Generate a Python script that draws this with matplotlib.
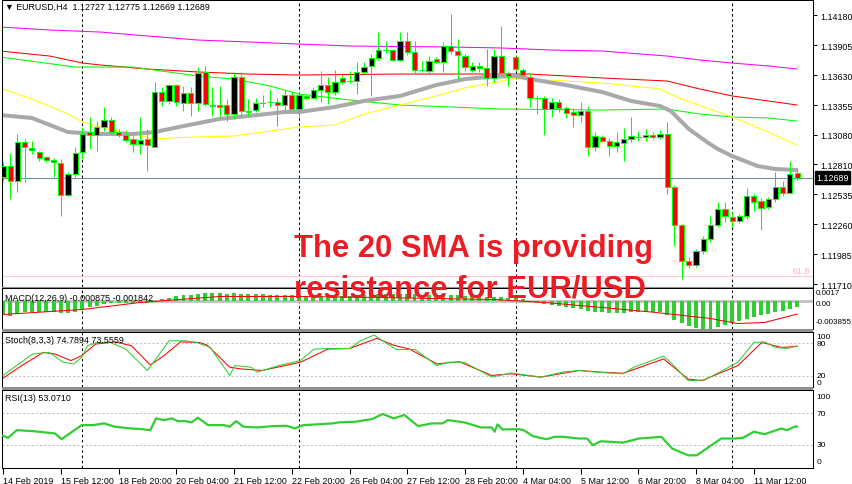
import matplotlib
matplotlib.use("Agg")
import matplotlib.pyplot as plt
from matplotlib.patches import Rectangle

plt.rcParams['font.family'] = ['Liberation Sans', 'DejaVu Sans']

# ---------------- data ----------------
opens = [1.12695, 1.12796, 1.12658, 1.13016, 1.12961, 1.12924, 1.12878, 1.12851, 1.12823, 1.12530,
         1.12722, 1.12924, 1.13107, 1.13080, 1.13153, 1.13217, 1.13107, 1.13080, 1.13043, 1.12997,
         1.13043, 1.12970, 1.13474, 1.13392, 1.13538, 1.13373, 1.13465, 1.13373, 1.13658, 1.13355,
         1.13351, 1.13355, 1.13272, 1.13612, 1.13300, 1.13309, 1.13378, 1.13387, 1.13383, 1.13355,
         1.13447, 1.13318, 1.13438, 1.13419, 1.13493, 1.13538, 1.13474, 1.13603, 1.13575, 1.13575,
         1.13658, 1.13713, 1.13786, 1.13859, 1.13859, 1.13768, 1.13942, 1.13841, 1.13676, 1.13667,
         1.13777, 1.13749, 1.13896, 1.13850, 1.13804, 1.13676, 1.13713, 1.13694, 1.13603, 1.13804,
         1.13648, 1.13795, 1.13676, 1.13612, 1.13419, 1.13419, 1.13318, 1.13383, 1.13327, 1.13291,
         1.13263, 1.13300, 1.12970, 1.13062, 1.13025, 1.12979, 1.13006, 1.13043, 1.13062, 1.13062,
         1.13080, 1.13062, 1.13089, 1.12603, 1.12255, 1.11924, 1.11887, 1.12016, 1.12126, 1.12255,
         1.12401, 1.12328, 1.12291, 1.12337, 1.12521, 1.12475, 1.12420, 1.12493, 1.12603, 1.12548,
         1.12727]
highs = [1.12832, 1.12915, 1.13089, 1.13043, 1.13025, 1.12933, 1.12887, 1.12869, 1.12860, 1.12741,
         1.12970, 1.13153, 1.13245, 1.13208, 1.13337, 1.13245, 1.13135, 1.13126, 1.13071, 1.13245,
         1.13135, 1.13566, 1.13520, 1.13548, 1.13548, 1.13529, 1.13520, 1.13703, 1.13713, 1.13520,
         1.13529, 1.13410, 1.13658, 1.13658, 1.13410, 1.13419, 1.13447, 1.13502, 1.13419, 1.13493,
         1.13474, 1.13483, 1.13447, 1.13520, 1.13667, 1.13612, 1.13676, 1.13630, 1.13667, 1.13749,
         1.13749, 1.13823, 1.14024, 1.13942, 1.13869, 1.14024, 1.14024, 1.13942, 1.13758, 1.13804,
         1.13795, 1.13933, 1.14189, 1.13960, 1.13823, 1.13749, 1.13749, 1.13869, 1.13869, 1.14079,
         1.13667, 1.13804, 1.13694, 1.13648, 1.13447, 1.13438, 1.13419, 1.13410, 1.13346, 1.13327,
         1.13383, 1.13346, 1.13107, 1.13080, 1.13052, 1.13107, 1.13144, 1.13245, 1.13117, 1.13135,
         1.13107, 1.13126, 1.13199, 1.12621, 1.12264, 1.11961, 1.12035, 1.12154, 1.12337, 1.12466,
         1.12466, 1.12374, 1.12356, 1.12594, 1.12539, 1.12502, 1.12511, 1.12741, 1.12658, 1.12842,
         1.12775]
lows = [1.12658, 1.12493, 1.12557, 1.12649, 1.12906, 1.12842, 1.12832, 1.12695, 1.12337, 1.12521,
        1.12695, 1.12860, 1.12952, 1.12933, 1.13117, 1.13089, 1.13062, 1.13016, 1.12924, 1.12906,
        1.12750, 1.12970, 1.13346, 1.13364, 1.13346, 1.13300, 1.13254, 1.13300, 1.13346, 1.13254,
        1.13245, 1.13208, 1.13227, 1.13245, 1.13254, 1.13291, 1.13337, 1.13337, 1.13162, 1.13309,
        1.13300, 1.13245, 1.13410, 1.13410, 1.13383, 1.13364, 1.13447, 1.13548, 1.13557, 1.13456,
        1.13639, 1.13438, 1.13768, 1.13832, 1.13758, 1.13758, 1.13813, 1.13639, 1.13658, 1.13639,
        1.13740, 1.13658, 1.13823, 1.13593, 1.13667, 1.13658, 1.13658, 1.13529, 1.13566, 1.13639,
        1.13529, 1.13667, 1.13612, 1.13337, 1.13272, 1.13080, 1.13245, 1.13291, 1.13236, 1.13153,
        1.13199, 1.12887, 1.12933, 1.13016, 1.12887, 1.12924, 1.12842, 1.13016, 1.13025, 1.13025,
        1.13043, 1.13043, 1.12539, 1.12062, 1.11759, 1.11860, 1.11869, 1.11989, 1.12099, 1.12236,
        1.12282, 1.12236, 1.12273, 1.12310, 1.12383, 1.12209, 1.12401, 1.12466, 1.12521, 1.12548,
        1.12669]
closes = [1.12796, 1.12658, 1.13016, 1.12970, 1.12942, 1.12869, 1.12851, 1.12832, 1.12530, 1.12722,
          1.12915, 1.13089, 1.13080, 1.13153, 1.13217, 1.13107, 1.13080, 1.13034, 1.12997, 1.13034,
          1.12988, 1.13474, 1.13392, 1.13538, 1.13383, 1.13465, 1.13373, 1.13648, 1.13364, 1.13346,
          1.13341, 1.13272, 1.13612, 1.13300, 1.13291, 1.13373, 1.13378, 1.13387, 1.13355, 1.13447,
          1.13318, 1.13447, 1.13419, 1.13493, 1.13538, 1.13474, 1.13566, 1.13566, 1.13575, 1.13658,
          1.13703, 1.13786, 1.13859, 1.13859, 1.13768, 1.13942, 1.13841, 1.13676, 1.13676, 1.13758,
          1.13749, 1.13896, 1.13850, 1.13813, 1.13703, 1.13713, 1.13694, 1.13603, 1.13804, 1.13648,
          1.13621, 1.13685, 1.13630, 1.13419, 1.13419, 1.13318, 1.13383, 1.13327, 1.13282, 1.13263,
          1.13300, 1.12970, 1.13071, 1.13025, 1.12979, 1.13016, 1.13043, 1.13071, 1.13062, 1.13080,
          1.13062, 1.13089, 1.12603, 1.12255, 1.11924, 1.11887, 1.12016, 1.12126, 1.12255, 1.12401,
          1.12337, 1.12291, 1.12337, 1.12521, 1.12466, 1.12411, 1.12493, 1.12603, 1.12548, 1.12722,
          1.12689]

# moving averages (bar index, price) read at knots
sma20_x = [-0.4, 4, 9, 13, 18, 21, 25, 30, 34, 39, 41, 46, 50, 55, 60, 64, 67, 71, 73, 78, 83, 87,
           91, 92.5, 95, 97.5, 99, 101, 104.5, 107, 110]
sma20_y = [1.13263, 1.13236, 1.13107, 1.13089, 1.13089, 1.13107, 1.13162, 1.13227, 1.13254, 1.13291,
           1.13291, 1.13337, 1.13392, 1.13438, 1.13538, 1.13593, 1.13612, 1.13621, 1.13593, 1.13538,
           1.13474, 1.13392, 1.13346, 1.13300, 1.13135, 1.13016, 1.12952, 1.12887, 1.12796, 1.12768,
           1.12759]
yellow_x = [-0.4, 4, 9, 11, 13.5, 18, 21, 23, 27, 32, 37, 41, 46, 50, 55, 60, 64, 69, 71, 73, 78,
            83, 91, 94, 101, 106, 110]
yellow_y = [1.13511, 1.13410, 1.13272, 1.13199, 1.13153, 1.13089, 1.13043, 1.13052, 1.13062, 1.13071,
            1.13117, 1.13153, 1.13172, 1.13272, 1.13355, 1.13438, 1.13511, 1.13575, 1.13603, 1.13593,
            1.13575, 1.13557, 1.13502, 1.13410, 1.13245, 1.13107, 1.12988]
green_x = [-0.4, 10, 18, 24, 27, 32, 37, 41, 48, 55, 62, 69, 83, 92, 96.5, 101, 106, 110]
green_y = [1.13795, 1.13703, 1.13703, 1.13648, 1.13621, 1.13593, 1.13529, 1.13456, 1.13401, 1.13355,
           1.13337, 1.13318, 1.13309, 1.13318, 1.13272, 1.13245, 1.13236, 1.13208]
red_x = [-0.4, 6.5, 11, 13.5, 20, 27, 34, 41, 55, 69, 73, 83, 92, 96.5, 101, 106, 110]
red_y = [1.13850, 1.13804, 1.13740, 1.13722, 1.13685, 1.13658, 1.13639, 1.13630, 1.13639, 1.13639,
         1.13639, 1.13603, 1.13575, 1.13502, 1.13438, 1.13392, 1.13355]
magenta_x = [-0.4, 6.5, 13.5, 20, 27, 34, 41, 48, 55, 62, 69, 76, 83, 92, 96.5, 101, 106, 110]
magenta_y = [1.14070, 1.14043, 1.14024, 1.13988, 1.13951, 1.13933, 1.13914, 1.13896, 1.13891, 1.13887,
             1.13878, 1.13859, 1.13850, 1.13804, 1.13768, 1.13740, 1.13713, 1.13685]

fib618 = 1.11787
main_ticks = [1.14180, 1.13905, 1.13630, 1.13355, 1.13080, 1.12810, 1.12535, 1.12260, 1.11985, 1.11710]

macd_hist = [-0.00200, -0.00210, -0.00180, -0.00160, -0.00150, -0.00150, -0.00150, -0.00150, -0.00170, -0.00170, -0.00150,
             -0.00120, -0.00090, -0.00070, -0.00050, -0.00040, -0.00040, -0.00040, -0.00040, -0.00040, -0.00040,
             0.00000, 0.00020, 0.00040, 0.00060, 0.00070, 0.00080, 0.00090, 0.00100, 0.00100, 0.00100,
             0.00095, 0.00100, 0.00095, 0.00090, 0.00090, 0.00085, 0.00080, 0.00075, 0.00075, 0.00070,
             0.00070, 0.00065, 0.00065, 0.00065, 0.00065, 0.00065, 0.00065, 0.00065, 0.00070, 0.00075,
             0.00080, 0.00085, 0.00090, 0.00090, 0.00095, 0.00095, 0.00090, 0.00080, 0.00080, 0.00075,
             0.00080, 0.00075, 0.00070, 0.00065, 0.00060, 0.00055, 0.00050, 0.00050, 0.00045, 0.00040,
             0.00030, 0.00015, -0.00005, -0.00030, -0.00050, -0.00060, -0.00075, -0.00085, -0.00100, -0.00110,
             -0.00135, -0.00150, -0.00160, -0.00165, -0.00165, -0.00165, -0.00160, -0.00160, -0.00160, -0.00160,
             -0.00160, -0.00200, -0.00260, -0.00310, -0.00350, -0.00370, -0.00385, -0.00380, -0.00360, -0.00330,
             -0.00305, -0.00280, -0.00250, -0.00225, -0.00200, -0.00180, -0.00155, -0.00135, -0.00115, -0.000875]
macd_sig_x = [0, 11, 19, 30, 41, 52, 68, 75, 83, 90.5, 98, 101.7, 105.5, 110]
macd_sig_y = [-0.00189, -0.00121, -0.00026, 0.00055, 0.00055, 0.00041, 0.00014, -0.00026, -0.00094,
              -0.00162, -0.00243, -0.00311, -0.00297, -0.00184]

stoch_main_x = [0, 1.9, 4.1, 6.4, 8.3, 9.8, 10.9, 11.7, 12.8, 14.7, 17, 20, 21.5, 23, 25.3, 26.8, 28.7,
                31.4, 32.1, 34.4, 35.2, 38.2, 41.2, 43.1, 45, 48, 49.5, 51.4, 52.6, 54.5, 57.1, 60.1,
                61.6, 63.9, 67.7, 70.4, 74.5, 77.5, 79.8, 82.1, 85.9, 87.4, 91.5, 92.7, 94.9, 97.2,
                101.8, 104, 105.5, 107, 108.6, 110]
stoch_main_y = [21, 39, 60, 63, 45, 42, 54, 75, 80, 82, 69, 30, 57, 84, 84, 81, 72,
                21, 39, 36, 27, 39, 48, 69, 70, 70, 84, 94.5, 84, 68, 68, 39,
                45, 45, 18, 25.5, 18, 27, 30, 27, 24, 36, 56, 42, 11.5, 12.7,
                45, 81, 82, 72, 70, 74.8]
stoch_sig_x = [0, 2.6, 5.6, 7.2, 9.4, 10.9, 12.8, 15.5, 17.8, 20.4, 22.3, 24.6, 27.2, 28.3, 31.4, 32.9,
               35.9, 41.2, 45, 48, 51.8, 54.1, 56.3, 60.1, 63.2, 67.7, 70.4, 74.5, 79.8, 82.8, 85.9,
               91.5, 94.9, 96.8, 101.8, 105.1, 107.8, 110]
stoch_sig_y = [16, 39, 63, 60, 48, 57, 78, 82, 75, 40, 57, 82, 81, 76, 36, 33,
               30, 45, 69, 70, 88.5, 76, 69, 42, 46, 21, 24, 18, 30, 27, 25,
               51, 14.5, 11.5, 39, 81, 72, 73.6]

rsi_x = [0, 0.7, 1.9, 4.1, 7.2, 8.1, 10.9, 12.5, 14, 15.5, 17.7, 19.3, 20.4, 21.2, 22.3, 23.4, 24.2,
         25.3, 26.1, 27, 28.4, 30.6, 31.4, 32.3, 33.3, 35.2, 37.4, 39.3, 40.4, 41.6, 43.5, 45.7, 46.5,
         48.8, 51.1, 52.6, 54.1, 55.6, 57.5, 59.4, 60.9, 61.6, 63.9, 66.2, 67.7, 68.1, 68.5, 69.2,
         71.5, 72.2, 73.4, 75.3, 76.4, 77.5, 79.8, 80.9, 81.7, 82.8, 85.9, 88.1, 91.2, 92.7, 94.9,
         96.1, 99.5, 101.4, 102.5, 104, 105.5, 107.8, 108.6, 109.7, 110]
rsi_y = [41.3, 38.7, 48.5, 47.3, 44.3, 36.9, 55, 55, 57.2, 52.9, 50.7, 49.8, 48.5, 63.6, 61.4, 63.6, 60.1,
         60.1, 58.5, 64.5, 55, 55, 52.9, 60.1, 52.9, 52, 53.7, 54.1, 50.7, 55, 55.9, 57.2, 58.5,
         59.3, 62.7, 69.2, 63.6, 67.9, 53.7, 57.2, 57.2, 61.4, 58.5, 52, 52, 46.5, 55.9, 49.4,
         49.8, 48.1, 40.8, 36.9, 40, 40, 37.8, 37.8, 29.2, 34.3, 32.6, 37.8, 40, 24.9, 16.3,
         16.3, 37.8, 37.8, 38.7, 46.5, 43.4, 50.7, 48.5, 53.1, 53.1]

date_ticks = [0, 8, 16, 24, 32, 40, 48, 56, 64, 72, 80, 88, 96, 104]
date_labels = ["14 Feb 2019", "15 Feb 12:00", "18 Feb 20:00", "20 Feb 04:00", "21 Feb 12:00",
               "22 Feb 20:00", "26 Feb 04:00", "27 Feb 12:00", "28 Feb 20:00", "4 Mar 04:00",
               "5 Mar 12:00", "6 Mar 20:00", "8 Mar 04:00", "11 Mar 12:00"]
week_starts = [11, 41, 71, 101]

# ---------------- layout ----------------
W, H = 852, 485
fig = plt.figure(figsize=(W / 100, H / 100), dpi=100)
fig.patch.set_facecolor('white')
XMIN, XMAX = -0.14, 112.2
LW = 0.75
FS = 6.4


def add_ax(x0, y0, x1, y1):
    ax = fig.add_axes([x0 / W, 1 - y1 / H, (x1 - x0) / W, (y1 - y0) / H])
    ax.set_xlim(XMIN, XMAX)
    ax.set_facecolor('white')
    for s in ax.spines.values():
        s.set_linewidth(LW)
        s.set_color('black')
    ax.set_xticks([])
    ax.yaxis.tick_right()
    ax.tick_params(axis='y', length=3, width=LW, pad=2, labelsize=FS, colors='black')
    for w in week_starts:
        ax.axvline(w, color='black', lw=LW, ls=(0, (2.5, 2.5)), zorder=1)
    return ax


# separators
for (ya, yb) in [(288, 289), (330, 333), (388, 391)]:
    fig.patches.append(Rectangle((2 / W, 1 - yb / H), 811 / W, (yb - ya) / H,
                                 transform=fig.transFigure, facecolor='#909090', edgecolor='none'))

# ---- main price panel ----
ax = add_ax(2, 1, 813, 288)
ax.set_ylim(1.11686, 1.14318)
ax.set_yticks(main_ticks)
ax.set_yticklabels([f"{v:.5f}" for v in main_ticks])

ax.plot(magenta_x, magenta_y, color='#ff00ff', lw=LW, zorder=2)
ax.plot(red_x, red_y, color='#ff0000', lw=LW, zorder=2)
ax.plot(green_x, green_y, color='#00ff00', lw=LW, zorder=2)
ax.plot(yellow_x, yellow_y, color='#ffff00', lw=LW, zorder=2)
ax.plot(sma20_x, sma20_y, color='#a9a9a9', lw=2.9, zorder=2, solid_capstyle='butt')

ax.axhline(fib618, color='#ffc8d0', lw=LW, zorder=1)
ax.text(111.8, fib618 + 0.00012, "61.8", color='#ffb0bc', fontsize=FS, ha='right', va='bottom')
ax.axhline(closes[-1], color='#778899', lw=LW, zorder=1.5)

bw = 0.72
for i, (o, h, l, c) in enumerate(zip(opens, highs, lows, closes)):
    ax.plot([i, i], [l, h], color='#00ff00', lw=LW, zorder=3, solid_capstyle='butt')
    if abs(c - o) < 0.00002:
        ax.plot([i - bw / 2, i + bw / 2], [o, o], color='#00ff00', lw=LW, zorder=4)
    else:
        fc = 'black' if c > o else '#ff0000'
        ax.add_patch(Rectangle((i - bw / 2, min(o, c)), bw, abs(c - o), facecolor=fc,
                               edgecolor='#00ff00', lw=LW, zorder=4))

ax.text(1.004, closes[-1], f"{closes[-1]:.5f}", transform=ax.get_yaxis_transform(),
        color='white', fontsize=FS, va='center', ha='left',
        bbox=dict(facecolor='black', edgecolor='black', pad=1.2), zorder=10, clip_on=False)
fig.text(5 / W, 1 - 7.5 / H, "\u25bc EURUSD,H4  1.12727 1.12775 1.12669 1.12689",
         fontsize=FS, va='center', ha='left', color='black')

# ---- MACD ----
axm = add_ax(2, 289, 813, 330)
axm.set_ylim(-0.003855, 0.0017)
axm.set_yticks([])
axm.axhline(0, color='#c0c0c0', lw=2.0, zorder=1)
axm.bar(range(len(macd_hist)), macd_hist, width=0.55, color='#32cd32', zorder=2)
axm.plot(macd_sig_x, macd_sig_y, color='#ff0000', lw=LW, zorder=3)
axm.text(1.003, 0.90, "0.0017", transform=axm.transAxes, fontsize=5.8, va='center', ha='left',
         clip_on=False)
axm.text(1.003, 0.63, "0.00", transform=axm.transAxes, fontsize=5.8, va='center',
         ha='left', clip_on=False)
axm.text(1.003, 0.18, "-0.003855", transform=axm.transAxes, fontsize=5.8, va='center', ha='left',
         clip_on=False)
axm.text(0.004, 0.78, "MACD(12,26,9) -0.000875 -0.001842", transform=axm.transAxes,
         fontsize=FS, va='center', ha='left')

# ---- Stochastic ----
axs = add_ax(2, 333, 813, 388)
axs.set_ylim(0, 100)
axs.set_yticks([])
for lv in (80, 20):
    axs.axhline(lv, color='#c0c0c0', lw=LW, ls=(0, (2, 2)), zorder=1)
axs.plot(stoch_main_x, stoch_main_y, color='#32cd32', lw=LW, zorder=3)
axs.plot(stoch_sig_x, stoch_sig_y, color='#ff0000', lw=LW, zorder=2)
yt = axs.get_yaxis_transform()
for v, s in [(91, "100"), (80, "80"), (20, "20"), (9, "0")]:
    axs.text(1.004, v, s, transform=yt, fontsize=6.0, va='center', ha='left', clip_on=False)
axs.text(0.004, 0.86, "Stoch(8,3,3) 74.7894 73.5559", transform=axs.transAxes,
         fontsize=FS, va='center', ha='left')

# ---- RSI ----
axr = add_ax(2, 391, 813, 469)
axr.set_ylim(0, 100)
axr.set_yticks([])
for lv in (70, 30):
    axr.axhline(lv, color='#c0c0c0', lw=LW, ls=(0, (2, 2)), zorder=1)
axr.plot(rsi_x, rsi_y, color='#32cd32', lw=1.6, zorder=3)
yt = axr.get_yaxis_transform()
for v, s in [(92, "100"), (70, "70"), (30, "30"), (8, "0")]:
    axr.text(1.004, v, s, transform=yt, fontsize=6.0, va='center', ha='left', clip_on=False)
axr.text(0.004, 0.91, "RSI(13) 53.0710", transform=axr.transAxes, fontsize=FS, va='center', ha='left')
axr.set_xticks(date_ticks)
axr.set_xticklabels(date_labels)
axr.tick_params(axis='x', length=4, width=LW, pad=1.5, labelsize=FS, direction='out')
for lbl in axr.get_xticklabels():
    lbl.set_ha('left')

# ---- overlay headline ----
fig.text(294 / W, 1 - 257 / H, "The 20 SMA is providing", fontsize=22.3, fontweight='bold',
         color='#ec1c24', ha='left', va='baseline', zorder=20)
fig.text(294 / W, 1 - 297 / H, "resistance for EUR/USD", fontsize=22.3, fontweight='bold',
         color='#ec1c24', ha='left', va='baseline', zorder=20)

fig.savefig("out.png", dpi=100, facecolor='white')
